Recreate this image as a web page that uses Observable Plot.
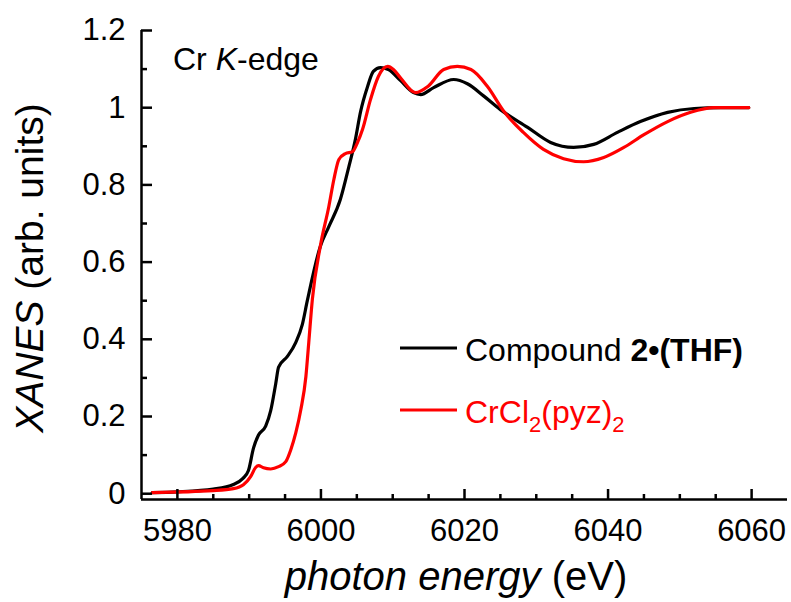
<!DOCTYPE html>
<html><head><meta charset="utf-8">
<script src="https://cdn.jsdelivr.net/npm/d3@7"></script>
<script src="https://cdn.jsdelivr.net/npm/@observablehq/plot@0.6"></script>
<style>body{margin:0;background:#fff} #chart{width:791px;height:602px}</style>
</head><body><div id="chart"></div>
<script>
const seriesNames = ["Compound 2•(THF)", "CrCl2(pyz)2"];
const seriesColors = ["#000000", "#ff0000"];

const compoundEnergy = [5976.5, 5980.0, 5985.0, 5987.8, 5989.1, 5989.9, 5990.6, 5991.3, 5992.3, 5993.0, 5993.7, 5994.1, 5995.3, 5996.5, 5997.4, 5998.1, 5999.9, 6001.1, 6002.7, 6003.9, 6004.8, 6005.5, 6006.5, 6007.3, 6008.3, 6009.4, 6011.1, 6012.9, 6013.9, 6015.7, 6018.5, 6020.4, 6022.7, 6025.0, 6028.8, 6032.0, 6035.2, 6038.0, 6041.3, 6044.5, 6048.3, 6052.0, 6055.7, 6059.6];
const compoundXanes  = [0.003, 0.005, 0.012, 0.024, 0.039, 0.060, 0.118, 0.152, 0.175, 0.215, 0.285, 0.328, 0.355, 0.392, 0.438, 0.500, 0.640, 0.692, 0.762, 0.848, 0.918, 0.988, 1.055, 1.094, 1.104, 1.099, 1.070, 1.039, 1.034, 1.052, 1.073, 1.062, 1.030, 0.995, 0.949, 0.910, 0.897, 0.905, 0.936, 0.964, 0.988, 0.998, 1.000, 1.000];

const crclEnergy = [5976.5, 5985.0, 5987.8, 5989.2, 5990.2, 5990.9, 5991.3, 5992.0, 5993.0, 5994.1, 5995.1, 5995.8, 5996.5, 5997.2, 5997.9, 5998.3, 5998.8, 5999.9, 6001.1, 6001.8, 6002.5, 6003.4, 6004.4, 6005.1, 6005.8, 6006.9, 6008.0, 6009.3, 6010.1, 6011.1, 6013.2, 6014.9, 6017.1, 6019.0, 6020.9, 6023.2, 6025.5, 6028.2, 6031.0, 6033.8, 6036.6, 6039.4, 6042.2, 6045.0, 6048.3, 6051.5, 6054.7, 6059.6];
const crclXanes  = [0.003, 0.008, 0.013, 0.023, 0.044, 0.068, 0.073, 0.067, 0.064, 0.070, 0.083, 0.114, 0.158, 0.218, 0.303, 0.391, 0.503, 0.640, 0.744, 0.814, 0.866, 0.881, 0.886, 0.910, 0.944, 1.021, 1.081, 1.107, 1.099, 1.077, 1.039, 1.055, 1.099, 1.107, 1.099, 1.055, 0.990, 0.936, 0.892, 0.868, 0.860, 0.871, 0.897, 0.930, 0.964, 0.988, 1.000, 1.000];

const xMajorTicks = [5980, 6000, 6020, 6040, 6060];
const xMinorTicks = [5985, 5990, 5995, 6005, 6010, 6015, 6025, 6030, 6035, 6045, 6050, 6055];
const yMajorTicks = [0, 0.2, 0.4, 0.6, 0.8, 1, 1.2];
const yMinorTicks = [0.1, 0.3, 0.5, 0.7, 0.9, 1.1];
const xDomain = [5975, 6065];
const yDomain = [-0.015, 1.2];

const rows = [
  ...compoundEnergy.map((e, i) => ({series: seriesNames[0], energy: e, xanes: compoundXanes[i]})),
  ...crclEnergy.map((e, i) => ({series: seriesNames[1], energy: e, xanes: crclXanes[i]}))
];

const W = 791, H = 602, mL = 141, mR = 4, mT = 30, mB = 103;
const innerW = W - mL - mR, innerH = H - mT - mB;
const FONT = "'Liberation Sans', Arial, Helvetica, sans-serif";

const plot = Plot.plot({
  width: W, height: H,
  marginLeft: mL, marginRight: mR, marginTop: mT, marginBottom: mB,
  style: {fontFamily: FONT, fontSize: "31px", background: "#fff", color: "#000", overflow: "visible"},
  x: {domain: xDomain},
  y: {domain: yDomain},
  color: {domain: seriesNames, range: seriesColors},
  marks: [
    Plot.line(rows, {x: "energy", y: "xanes", z: "series", stroke: "series", strokeWidth: 3.2, curve: "monotone-x"}),
    Plot.axisX(xMajorTicks, {tickSize: 0, tickPadding: 19, label: null, fontSize: 31, tickFormat: d => String(d)}),
    Plot.axisY(yMajorTicks, {tickSize: 0, tickPadding: 16, label: null, fontSize: 31, tickFormat: d => String(d)}),
    Plot.tickX(xMajorTicks, {x: d => d, stroke: "#000", strokeWidth: 2.5, insetTop: innerH - 10}),
    Plot.tickX(xMinorTicks, {x: d => d, stroke: "#000", strokeWidth: 2.5, insetTop: innerH - 5}),
    Plot.tickY(yMajorTicks, {y: d => d, stroke: "#000", strokeWidth: 2.5, insetRight: innerW - 11}),
    Plot.tickY(yMinorTicks, {y: d => d, stroke: "#000", strokeWidth: 2.5, insetRight: innerW - 6}),
    Plot.ruleY([yDomain[0]], {stroke: "#000", strokeWidth: 2.5}),
    Plot.ruleX([xDomain[0]], {stroke: "#000", strokeWidth: 2.5})
  ]
});

const svg = d3.select(plot);

// y-axis title
const yt = svg.append("text")
  .attr("transform", "translate(43,268) rotate(-90)")
  .attr("text-anchor", "middle").attr("font-size", 39).attr("fill", "#000");
yt.append("tspan").attr("font-style", "italic").text("XANES");
yt.append("tspan").text(" (arb. units)");

// x-axis title
const xt = svg.append("text")
  .attr("x", 456).attr("y", 590)
  .attr("text-anchor", "middle").attr("font-size", 40).attr("fill", "#000");
xt.append("tspan").attr("font-style", "italic").text("photon energy");
xt.append("tspan").text(" (eV)");

// annotation
const ann = svg.append("text").attr("x", 173).attr("y", 70)
  .attr("text-anchor", "start").attr("font-size", 32).attr("fill", "#000");
ann.append("tspan").text("Cr ");
ann.append("tspan").attr("font-style", "italic").text("K");
ann.append("tspan").text("-edge");

// legend
const leg = svg.append("g").attr("text-anchor", "start");
leg.append("line").attr("x1", 400).attr("x2", 457).attr("y1", 348).attr("y2", 348)
  .attr("stroke", seriesColors[0]).attr("stroke-width", 3);
const l1 = leg.append("text").attr("x", 465).attr("y", 361).attr("font-size", 32).attr("fill", seriesColors[0]);
l1.append("tspan").text("Compound ");
l1.append("tspan").attr("font-weight", "bold").text("2•(THF)");

leg.append("line").attr("x1", 400).attr("x2", 457).attr("y1", 410).attr("y2", 410)
  .attr("stroke", seriesColors[1]).attr("stroke-width", 3);
const l2 = leg.append("text").attr("x", 465).attr("y", 423).attr("font-size", 32).attr("fill", seriesColors[1]);
l2.append("tspan").text("CrCl");
l2.append("tspan").attr("font-size", 22).attr("dy", 9).text("2");
l2.append("tspan").attr("dy", -9).text("(pyz)");
l2.append("tspan").attr("font-size", 22).attr("dy", 9).text("2");

document.getElementById("chart").appendChild(plot);
</script>
</body></html>
